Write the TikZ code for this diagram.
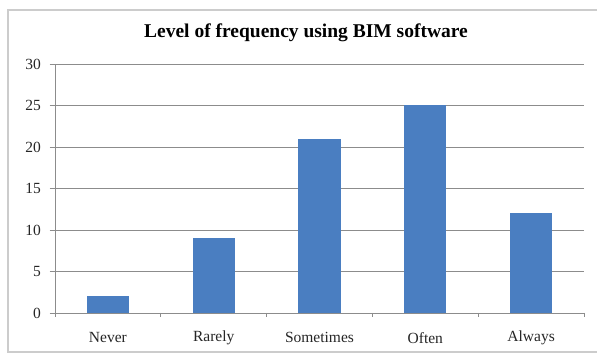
\documentclass[tikz,border=0pt]{standalone}
\usepackage{fontspec}
\setmainfont{Liberation Serif}
\definecolor{barblue}{RGB}{74,126,193}
\tikzset{
  gridline/.style={draw=black!45, line width=0.9pt},
  ticklabel/.style={font=\fontsize{15.5}{18}\selectfont, text=black!85},
}

\begin{document}
\begin{tikzpicture}[x=1pt,y=1pt]
  \useasboundingbox (0,0) rectangle (597,361);
  \fill[white] (0,0) rectangle (597,361);
  % chart frame
  \draw[black!20, line width=1.5pt] (600,351) -- (8,351) -- (8,9) -- (600,9);
  \node[font=\bfseries\fontsize{19.5}{22}\selectfont] (title) at (306,328) {Level of frequency using BIM software};

  \begin{scope}[shift={(55,48)}, x=105.8pt, y=8.3pt]
    \foreach \v in {0,5,...,30}{
      \draw[gridline] (-0.05,\v) -- (5,\v);
      \node[ticklabel, anchor=east] (y\v) at (-0.1,\v) {\v};
    }
    \draw[gridline] (0,0) -- (0,30);
    \foreach \i in {0,...,5}
      \draw[gridline] (\i,0) -- (\i,-0.5);

    \foreach \name/\val [count=\i] in {Never/2, Rarely/9, Sometimes/21, Often/25, Always/12}{
      \fill[barblue] (\i-0.7,0) rectangle (\i-0.3,\val);
      \node[ticklabel] (cat\i) at (\i-0.5,-3) {\name};
    }
  \end{scope}
\end{tikzpicture}
\end{document}
